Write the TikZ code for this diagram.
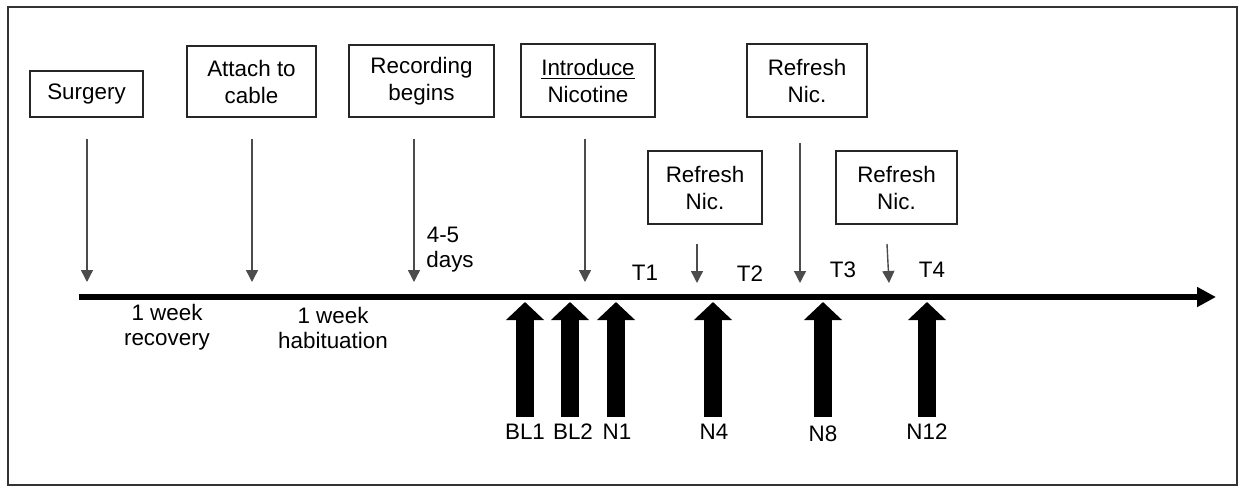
\documentclass[tikz,border=0pt]{standalone}
\usepackage{fontspec}
\setmainfont{Liberation Sans}
\usetikzlibrary{arrows.meta}
\begin{document}
\begin{tikzpicture}[x=0.5pt,y=-0.5pt,
  box/.style={draw=black!85, line width=1pt, align=center, inner sep=0pt,
    font=\fontsize{11.2}{13.5}\selectfont},
  lbl/.style={align=center, inner sep=0pt, font=\fontsize{11.2}{12.5}\selectfont},
  thinarrow/.style={draw=black!70, line width=0.7pt, -{Triangle[length=6pt,width=6pt]}},
  bigarrow/.style={line width=9pt, -{Triangle[length=9pt,width=18.5pt]}},
  timeline/.style={line width=3.2pt, -{Triangle[length=9.5pt,width=9.5pt]}}
]
\useasboundingbox (0,0) rectangle (1238,487);
\draw[black!80, line width=1pt] (8,7) rectangle (1237,485);

% boxes
\node[box, minimum width=56.5pt, minimum height=23pt] (surg) at (86.5,94) {Surgery};
\node[box, minimum width=64.5pt, minimum height=35.5pt] (attach) at (251.5,81.5) {Attach to\\cable};
\node[box, minimum width=72.5pt, minimum height=36pt] (rec) at (421.5,81) {Recording\\begins};
\node[box, minimum width=67pt, minimum height=36.5pt] (intro) at (588,80.5) {\underline{Introduce}\\Nicotine};
\node[box, minimum width=60pt, minimum height=36.5pt] (ref1) at (807,80.5) {Refresh\\Nic.};
\node[box, minimum width=57pt, minimum height=36.5pt] (ref2) at (705,187.5) {Refresh\\Nic.};
\node[box, minimum width=60.5pt, minimum height=36.5pt] (ref3) at (896.5,187.5) {Refresh\\Nic.};

% timeline
\coordinate (tl0) at (79,297);
\coordinate (tl1) at (1216,297);
\draw[timeline] (tl0) -- (tl1);

% thin arrows
\coordinate (s1) at (87,139);  \coordinate (e1) at (87,282);
\coordinate (s2) at (252,139); \coordinate (e2) at (252,282);
\coordinate (s3) at (414,139); \coordinate (e3) at (414,282);
\coordinate (s4) at (585,139); \coordinate (e4) at (585,282);
\coordinate (s5) at (800,143); \coordinate (e5) at (800,283);
\coordinate (s6) at (697,244); \coordinate (e6) at (697,283);
\coordinate (s7) at (887,244); \coordinate (e7) at (889,283);
\draw[thinarrow] (s1) -- (e1);
\draw[thinarrow] (s2) -- (e2);
\draw[thinarrow] (s3) -- (e3);
\draw[thinarrow] (s4) -- (e4);
\draw[thinarrow] (s5) -- (e5);
\draw[thinarrow] (s6) -- (e6);
\draw[thinarrow] (s7) -- (e7);

% labels
\node[lbl] (rcv) at (167,327.5) {1 week\\recovery};
\node[lbl] (hab) at (333,327.5) {1 week\\habituation};
\node[lbl] (d45) at (443,235) {4-5};
\node[lbl] (days) at (450,262) {days};
\node[lbl] (t1) at (645,273) {T1};
\node[lbl] (t2) at (750,274) {T2};
\node[lbl] (t3) at (843,270) {T3};
\node[lbl] (t4) at (932,270) {T4};

% thick arrows
\foreach \n/\x/\lx/\ly/\t in {bl1/525/525/432/BL1, bl2/570/573/432/BL2, n1/616/617/432/N1,
  n4/713/714/432/N4, n8/823/823/434/N8, n12/927/927/432/N12}{
  \coordinate (\n b) at (\x,417);
  \coordinate (\n t) at (\x,302);
  \draw[bigarrow] (\n b) -- (\n t);
  \node[lbl] (\n l) at (\lx,\ly) {\t};
}
\end{tikzpicture}
\end{document}
